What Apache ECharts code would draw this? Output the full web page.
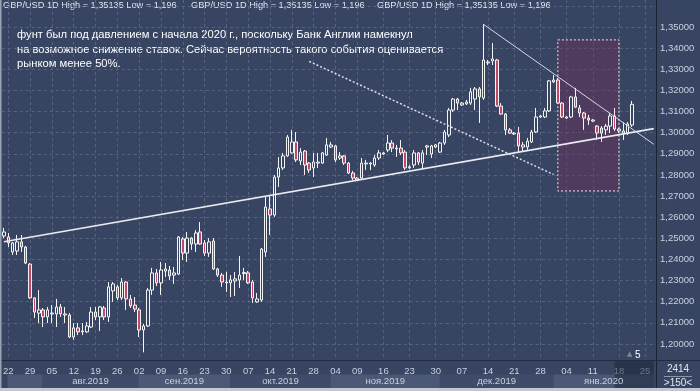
<!DOCTYPE html>
<html><head><meta charset="utf-8">
<script src="https://cdn.jsdelivr.net/npm/echarts@6/dist/echarts.min.js"></script>
<style>html,body{margin:0;padding:0;background:#374462}#c{width:700px;height:391px}</style>
</head><body><div id="c"></div>
<script>
// OHLC: [open, close, low, high]
const candles = [
[1.2511,1.2530,1.2501,1.2549],[1.2506,1.2478,1.2459,1.2525],[1.2435,1.2478,1.2421,1.2483],[1.2440,1.2483,1.2421,1.2516],
[1.2483,1.2459,1.2435,1.2516],[1.2459,1.2383,1.2378,1.2464],[1.2378,1.2218,1.2213,1.2383],[1.2218,1.2151,1.2123,1.2222],
[1.2146,1.2161,1.2099,1.2255],[1.2161,1.2128,1.2080,1.2170],[1.2128,1.2161,1.2099,1.2175],[1.2142,1.2146,1.2099,1.2184],
[1.2142,1.2175,1.2080,1.2213],[1.2175,1.2142,1.2128,1.2189],[1.2137,1.2142,1.2099,1.2175],[1.2137,1.2033,1.2028,1.2146],
[1.2033,1.2076,1.2019,1.2099],[1.2076,1.2057,1.2042,1.2099],[1.2057,1.2061,1.2042,1.2099],[1.2057,1.2085,1.2052,1.2104],
[1.2080,1.2151,1.2076,1.2175],[1.2151,1.2128,1.2113,1.2175],[1.2128,1.2175,1.2061,1.2180],[1.2170,1.2128,1.2113,1.2180],
[1.2128,1.2270,1.2104,1.2293],[1.2251,1.2284,1.2199,1.2293],[1.2270,1.2218,1.2208,1.2279],[1.2218,1.2293,1.2208,1.2312],
[1.2293,1.2213,1.2161,1.2298],[1.2213,1.2180,1.2170,1.2232],[1.2184,1.2165,1.2151,1.2222],[1.2161,1.2066,1.2033,1.2170],
[1.2066,1.2085,1.1960,1.2095],[1.2085,1.2255,1.2080,1.2265],[1.2255,1.2336,1.2232,1.2360],[1.2336,1.2289,1.2274,1.2355],
[1.2289,1.2350,1.2232,1.2388],[1.2345,1.2355,1.2317,1.2383],[1.2350,1.2322,1.2303,1.2369],[1.2326,1.2336,1.2284,1.2364],
[1.2331,1.2506,1.2326,1.2511],[1.2497,1.2430,1.2397,1.2506],[1.2430,1.2501,1.2388,1.2530],[1.2501,1.2473,1.2445,1.2506],
[1.2473,1.2525,1.2435,1.2539],[1.2530,1.2473,1.2469,1.2577],[1.2478,1.2430,1.2416,1.2492],[1.2430,1.2483,1.2412,1.2501],
[1.2487,1.2355,1.2350,1.2501],[1.2355,1.2326,1.2317,1.2360],[1.2326,1.2293,1.2270,1.2336],[1.2289,1.2293,1.2246,1.2341],
[1.2289,1.2303,1.2222,1.2326],[1.2298,1.2308,1.2227,1.2341],[1.2303,1.2326,1.2265,1.2416],[1.2333,1.2338,1.2303,1.2360],
[1.2336,1.2289,1.2284,1.2345],[1.2293,1.2218,1.2194,1.2303],[1.2199,1.2213,1.2194,1.2241],[1.2208,1.2449,1.2199,1.2454],
[1.2435,1.2648,1.2412,1.2700],[1.2639,1.2610,1.2516,1.2705],[1.2610,1.2790,1.2601,1.2800],[1.2790,1.2833,1.2743,1.2885],
[1.2833,1.2890,1.2823,1.2904],[1.2890,1.2979,1.2885,1.2989],[1.2904,1.2956,1.2900,1.3013],[1.2956,1.2871,1.2861,1.3003],
[1.2866,1.2908,1.2847,1.2927],[1.2913,1.2847,1.2800,1.2918],[1.2856,1.2823,1.2809,1.2861],[1.2833,1.2861,1.2790,1.2904],
[1.2856,1.2861,1.2833,1.2904],[1.2856,1.2904,1.2852,1.2908],[1.2894,1.2942,1.2890,1.2975],[1.2932,1.2942,1.2927,1.2956],
[1.2937,1.2871,1.2861,1.2942],[1.2880,1.2890,1.2871,1.2908],[1.2890,1.2856,1.2847,1.2894],[1.2856,1.2809,1.2804,1.2861],
[1.2809,1.2785,1.2776,1.2819],[1.2785,1.2776,1.2771,1.2790],[1.2785,1.2856,1.2781,1.2880],[1.2852,1.2856,1.2823,1.2871],
[1.2852,1.2856,1.2823,1.2861],[1.2847,1.2880,1.2838,1.2894],[1.2880,1.2904,1.2871,1.2918],[1.2899,1.2904,1.2894,1.2908],
[1.2918,1.2951,1.2908,1.2989],[1.2951,1.2927,1.2908,1.2965],[1.2923,1.2927,1.2885,1.2942],[1.2927,1.2904,1.2894,1.2965],
[1.2908,1.2833,1.2823,1.2918],[1.2833,1.2838,1.2828,1.2847],[1.2847,1.2904,1.2833,1.2918],[1.2904,1.2861,1.2847,1.2908],
[1.2856,1.2904,1.2828,1.2918],[1.2932,1.2937,1.2894,1.2942],[1.2899,1.2937,1.2880,1.2942],[1.2932,1.2942,1.2927,1.2946],
[1.2908,1.2951,1.2904,1.2956],[1.2951,1.3003,1.2942,1.3013],[1.2989,1.3107,1.2979,1.3117],[1.3107,1.3159,1.3098,1.3164],
[1.3159,1.3140,1.3107,1.3164],[1.3131,1.3140,1.3126,1.3145],[1.3136,1.3145,1.3131,1.3155],[1.3140,1.3193,1.3131,1.3212],
[1.3159,1.3207,1.3107,1.3216],[1.3207,1.3169,1.3046,1.3216],[1.3164,1.3344,1.3155,1.35135],[1.3330,1.3334,1.3320,1.3344],
[1.3339,1.3349,1.3320,1.3424],[1.3344,1.3126,1.3121,1.3349],[1.3126,1.3088,1.3084,1.3140],[1.3088,1.3013,1.2989,1.3093],
[1.3013,1.2998,1.2994,1.3022],[1.2994,1.2998,1.2989,1.3003],[1.2998,1.2937,1.2908,1.3027],[1.2932,1.2942,1.2908,1.2956],
[1.2932,1.2960,1.2918,1.2975],[1.2956,1.3003,1.2951,1.3013],[1.3003,1.3074,1.2998,1.3117],[1.3074,1.3079,1.3069,1.3084],
[1.3074,1.3103,1.3069,1.3117],[1.3103,1.3245,1.3098,1.3249],[1.3240,1.3249,1.3235,1.3273],[1.3249,1.3140,1.3136,1.3259],
[1.3140,1.3074,1.3069,1.3145],[1.3069,1.3074,1.3065,1.3079],[1.3074,1.3169,1.3069,1.3174],[1.3169,1.3121,1.3117,1.3212],
[1.3117,1.3093,1.3074,1.3131],[1.3093,1.3069,1.3013,1.3098],[1.3069,1.3060,1.3036,1.3084],[1.3055,1.3060,1.3050,1.3065],
[1.3031,1.2998,1.2965,1.3036],[1.3022,1.2998,1.2956,1.3031],[1.3013,1.3031,1.2989,1.3041],[1.3031,1.3079,1.2998,1.3093],
[1.3079,1.3017,1.3008,1.3117],[1.3008,1.3017,1.2998,1.3022],[1.2998,1.3008,1.2965,1.3050],[1.2998,1.3041,1.2989,1.3050],
[1.3036,1.3134,1.3027,1.3150]
];
const barCount = 150; // visible bar slots (last ones empty)
const categories = Array.from({length: barCount}, (_, i) => String(i));
const weekTickIndex = [1,6,11,16,21,26,31,36,41,46,51,56,61,66,71,76,81,87,93,99,105,111,117,123,129,135,141,147];
const weekTickLabels = ['22','29','05','12','19','26','02','09','16','23','30','07','14','21','28','04','09','16','23','30','07','14','21','28','04','11','18','25'];
const monthNames = ['', 'авг.2019', 'сен.2019', 'окт.2019', 'ноя.2019', 'дек.2019', 'янв.2020'];
const monthStart = [1, 9, 31, 52, 75, 100, 126];
const monthEnd   = [9, 31, 52, 75, 100, 126, 149];
const futureStart = 140, futureEnd = 149;
// trend lines [index, price]
const supportLine = [[0, 1.2484], [149, 1.3019]];
const resistLine  = [[110, 1.3512], [149, 1.2945]];
const dottedLine  = [[70, 1.3337], [126, 1.2802]];
const boxArea     = [[127, 1.3439], [141, 1.2724]];
const lastPrice = 1.3134;
const priceMin = 1.1924, priceMax = 1.36278;

const weekMap = {};
weekTickIndex.forEach((k, j) => weekMap[k] = weekTickLabels[j]);
const isWeek = (i) => weekMap[i] !== undefined;
const fmt = (v) => v.toFixed(5).replace('.', ',');
const FONT = 'Liberation Sans';
const BG = '#374462';

const chart = echarts.init(document.getElementById('c'), null, {renderer: 'canvas'});
chart.setOption({
  animation: false,
  backgroundColor: BG,
  textStyle: {fontFamily: FONT},
  grid: [
    {left: 1, right: 44, top: 0, bottom: 31},
    {left: 1, right: 44, top: 361, height: 27}
  ],
  xAxis: [{
    type: 'category', data: categories, gridIndex: 0, boundaryGap: true,
    axisLine: {show: false}, axisTick: {show: false},
    axisLabel: {interval: (i) => isWeek(i), formatter: (v, i) => weekMap[i] || '',
      color: '#c9d1de', fontSize: 9.5, margin: 6, fontFamily: FONT},
    splitLine: {show: true, interval: (i) => isWeek(i), alignWithLabel: true,
      lineStyle: {color: '#56637e', type: [3, 3], width: 1}}
  }, {
    type: 'category', data: categories, gridIndex: 1, boundaryGap: true, show: false
  }],
  yAxis: [{
    type: 'value', position: 'right', gridIndex: 0, min: priceMin, max: priceMax,
    minInterval: 0.01, maxInterval: 0.01, splitNumber: 17,
    axisLine: {show: false}, axisTick: {show: false},
    axisLabel: {color: '#c9d1de', fontSize: 9.5, margin: 4, showMinLabel: false, showMaxLabel: false,
      fontFamily: FONT, formatter: (v) => v > 1.355 ? '' : fmt(v)},
    splitLine: {show: true, showMinLine: false, showMaxLine: false,
      lineStyle: {color: '#56637e', type: [3, 3], width: 1}}
  }, {
    type: 'value', gridIndex: 1, min: 0, max: 1, show: false
  }],
  series: [{
    type: 'candlestick', data: candles, xAxisIndex: 0, yAxisIndex: 0, barWidth: 3,
    itemStyle: {color: BG, color0: '#c2486a', borderColor: '#f4f4f4', borderColor0: '#f4f4f4', borderWidth: 1},
    markArea: {
      silent: true,
      itemStyle: {color: 'rgba(110,48,88,0.42)', borderColor: '#e8e8e8', borderType: [2, 2], borderWidth: 1},
      data: [[{coord: boxArea[0]}, {coord: boxArea[1]}]]
    },
    markLine: {
      silent: true, symbol: ['none', 'none'], label: {show: false},
      data: [
        [{coord: supportLine[0], lineStyle: {color: '#e9ebf0', width: 1.6, type: 'solid'}}, {coord: supportLine[1]}],
        [{coord: resistLine[0], lineStyle: {color: '#d6d9e0', width: 1, type: 'solid'}}, {coord: resistLine[1]}],
        [{coord: dottedLine[0], lineStyle: {color: '#dde0e6', width: 1.5, type: [2, 2]}}, {coord: dottedLine[1]}],
        {yAxis: lastPrice, lineStyle: {opacity: 0},
          label: {show: true, position: 'end', distance: 4, formatter: fmt(lastPrice),
            backgroundColor: '#cfd3da', color: '#1b2130', fontSize: 10, fontFamily: FONT,
            padding: [2, 3, 1, 3]}}
      ]
    }
  }, {
    type: 'line', data: [], xAxisIndex: 1, yAxisIndex: 1,
    markArea: {
      silent: true,
      label: {show: true, position: 'inside', color: '#c9d1de', fontSize: 9.5, fontFamily: FONT},
      data: monthNames.map((m, i) => [
        {xAxis: monthStart[i], yAxis: 0, name: m,
          itemStyle: {color: i % 2 === 0 ? '#4b5977' : '#3e4b69'}},
        {xAxis: monthEnd[i], yAxis: 0.5}
      ]).concat([[
        {xAxis: futureStart, yAxis: 0, name: '', itemStyle: {color: 'rgba(30,38,58,0.55)'}},
        {xAxis: futureEnd, yAxis: 1}
      ]])
    }
  }],
  graphic: [
    {type: 'line', shape: {x1: 656.5, y1: 0, x2: 656.5, y2: 388}, style: {stroke: '#1b2233', lineWidth: 1}, silent: true},
    {type: 'line', shape: {x1: 0, y1: 360.5, x2: 700, y2: 360.5}, style: {stroke: '#232b3e', lineWidth: 1}, silent: true},
    {type: 'rect', shape: {x: 0, y: 388, width: 700, height: 3}, style: {fill: '#c3c8d1'}, silent: true},
    {type: 'rect', shape: {x: 0, y: 0, width: 1.5, height: 388}, style: {fill: '#9aa3b4'}, silent: true},
    {type: 'text', left: 3, top: 1, style: {text: 'GBP/USD 1D High = 1,35135 Low = 1,196', fill: '#e2e7ef', font: '9.2px "Liberation Sans"'}},
    {type: 'text', left: 191, top: 1, style: {text: 'GBP/USD 1D High = 1,35135 Low = 1,196', fill: '#e2e7ef', font: '9.2px "Liberation Sans"'}},
    {type: 'text', left: 377, top: 1, style: {text: 'GBP/USD 1D High = 1,35135 Low = 1,196', fill: '#e2e7ef', font: '9.2px "Liberation Sans"'}},
    {type: 'text', left: 17, top: 28, style: {
      text: 'фунт был под давлением с начала 2020 г., поскольку Банк Англии намекнул\nна возможное снижение ставок. Сейчас вероятность такого события оценивается\nрынком менее 50%.',
      fill: '#ffffff', font: '11.2px "Liberation Sans"', lineHeight: 14.5}},
    {type: 'text', left: 627, top: 351, style: {text: '▲', fill: '#7d879a', font: '7px "DejaVu Sans"'}},
    {type: 'text', left: 635, top: 350, style: {text: '5', fill: '#ffffff', font: '10px "Liberation Sans"'}},
    {type: 'text', x: 678, y: 369, style: {text: '2414', fill: '#e2e7ef', font: '10px "Liberation Sans"', align: 'center', verticalAlign: 'middle'}},
    {type: 'line', shape: {x1: 664, y1: 376.5, x2: 692, y2: 376.5}, style: {stroke: '#8d97aa', lineWidth: 1}, silent: true},
    {type: 'text', x: 678, y: 383, style: {text: '>150<', fill: '#e2e7ef', font: '10px "Liberation Sans"', align: 'center', verticalAlign: 'middle'}}
  ]
});
</script></body></html>
